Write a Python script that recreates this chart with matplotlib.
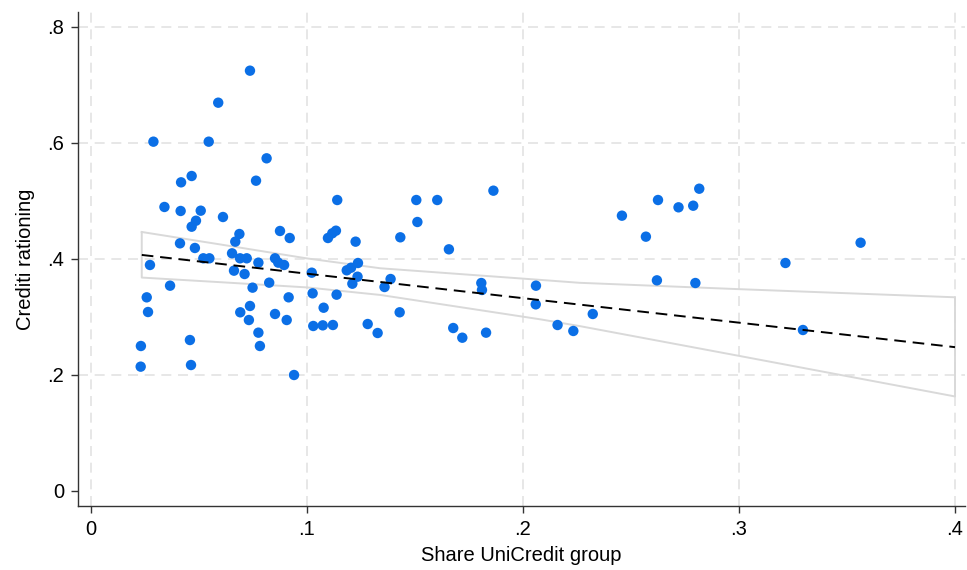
import numpy as np
import matplotlib
matplotlib.use("Agg")
from matplotlib import pyplot as plt

plt.rcParams['font.family'] = ['Liberation Sans', 'DejaVu Sans']

# share of UniCredit group (x) and credit rationing (y)
share = [0.0736, 0.0589, 0.0289, 0.0545, 0.0813, 0.0466, 0.0417, 0.0764, 0.0340, 0.0415,
         0.0508, 0.0611, 0.0486, 0.0466, 0.0687, 0.0875, 0.0920, 0.0668, 0.0412, 0.0481,
         0.0520, 0.0548, 0.0653, 0.0690, 0.0721, 0.0775, 0.0852, 0.0867, 0.0894, 0.1022,
         0.0273, 0.0662, 0.0711, 0.0366, 0.0748, 0.0825, 0.1026, 0.0258, 0.0915, 0.0264,
         0.0691, 0.0736, 0.0852, 0.0731, 0.0906, 0.1029, 0.0775, 0.0782, 0.0458, 0.0231,
         0.0230, 0.0463, 0.0940,
         0.1140, 0.1506, 0.1603, 0.1863, 0.1511, 0.1134, 0.1117, 0.1097, 0.1225, 0.1432,
         0.1657, 0.1236, 0.1204, 0.1184, 0.1234, 0.1387, 0.1210, 0.1359, 0.1807, 0.1810,
         0.2060, 0.2059, 0.1137, 0.1077, 0.1429, 0.1073, 0.1120, 0.1281, 0.1327, 0.1677,
         0.1719, 0.1829,
         0.2458, 0.2625, 0.2720, 0.2788, 0.2816, 0.2569, 0.2620, 0.2798, 0.2323, 0.2160,
         0.2233, 0.3215, 0.3563, 0.3296]
rationing = [0.7247, 0.6695, 0.6023, 0.6023, 0.5736, 0.5431, 0.5322, 0.5350, 0.4897, 0.4828,
             0.4833, 0.4724, 0.4660, 0.4557, 0.4431, 0.4483, 0.4362, 0.4299, 0.4270, 0.4190,
             0.4012, 0.4012, 0.4098, 0.4012, 0.4012, 0.3937, 0.4012, 0.3937, 0.3897, 0.3764,
             0.3897, 0.3799, 0.3741, 0.3540, 0.3506, 0.3592, 0.3408, 0.3339, 0.3339, 0.3086,
             0.3081, 0.3190, 0.3052, 0.2948, 0.2948, 0.2845, 0.2730, 0.2500, 0.2603, 0.2500,
             0.2144, 0.2172, 0.2000,
             0.5017, 0.5017, 0.5017, 0.5178, 0.4638, 0.4488, 0.4443, 0.4362, 0.4299, 0.4374,
             0.4167, 0.3931, 0.3850, 0.3805, 0.3695, 0.3655, 0.3574, 0.3517, 0.3586, 0.3466,
             0.3540, 0.3218, 0.3385, 0.3160, 0.3081, 0.2856, 0.2862, 0.2879, 0.2724, 0.2810,
             0.2643, 0.2730,
             0.4747, 0.5017, 0.4891, 0.4919, 0.5212, 0.4385, 0.3632, 0.3586, 0.3052, 0.2862,
             0.2759, 0.3931, 0.4281, 0.2776]

# linear fit and its confidence band
fit_x = [0.0235, 0.40]
fit_y = [0.407, 0.248]
band_x = [0.0235, 0.06, 0.10, 0.134, 0.208, 0.226, 0.30, 0.40]
band_hi = [0.4466, 0.425, 0.401, 0.384, 0.364, 0.359, 0.348, 0.334]
band_lo = [0.368, 0.360, 0.351, 0.338, 0.296, 0.2845, 0.233, 0.163]

fig = plt.figure(figsize=(9.67, 5.7), dpi=100)
ax = fig.add_axes([78 / 967, 64 / 570, 887 / 967, 494 / 570])

# band outline (closed, no fill)
poly_x = band_x + band_x[::-1] + [band_x[0]]
poly_y = band_hi + band_lo[::-1] + [band_hi[0]]
ax.plot(poly_x, poly_y, color='#d9d9d9', lw=1.4, zorder=2)

ax.scatter(share, rationing, s=56, color='#0b6fe6', edgecolors='none', zorder=3)
ax.plot(fit_x, fit_y, color='black', lw=1.4, ls=(0, (6, 3.5)), zorder=4)

ax.set_xlim(-13 / 2160, 0.4 + 10 / 2160)
ax.set_ylim(-15 / 580, 0.8 + 15 / 580)

xt = [0, 0.1, 0.2, 0.3, 0.4]
yt = [0, 0.2, 0.4, 0.6, 0.8]
ax.set_xticks(xt)
ax.set_xticklabels(['0', '.1', '.2', '.3', '.4'])
ax.set_yticks(yt)
ax.set_yticklabels(['0', '.2', '.4', '.6', '.8'])

for v in xt:
    ax.axvline(v, color='#e3e3e3', lw=1.2, ls=(0, (6, 4)), zorder=1)
for v in yt[1:]:
    ax.axhline(v, color='#e3e3e3', lw=1.2, ls=(0, (6, 4)), zorder=1)

ax.spines['top'].set_visible(False)
ax.spines['right'].set_visible(False)
for s in ['left', 'bottom']:
    ax.spines[s].set_color('#333333')
    ax.spines[s].set_linewidth(1.0)
ax.tick_params(direction='out', length=5, width=1.0, color='#333333',
               labelsize=14.5, labelcolor='black', pad=5)

ax.set_xlabel('Share UniCredit group', fontsize=14.5, labelpad=5)
ax.set_ylabel('Crediti rationing', fontsize=14.5, labelpad=9)

fig.savefig('out.png', dpi=100)
